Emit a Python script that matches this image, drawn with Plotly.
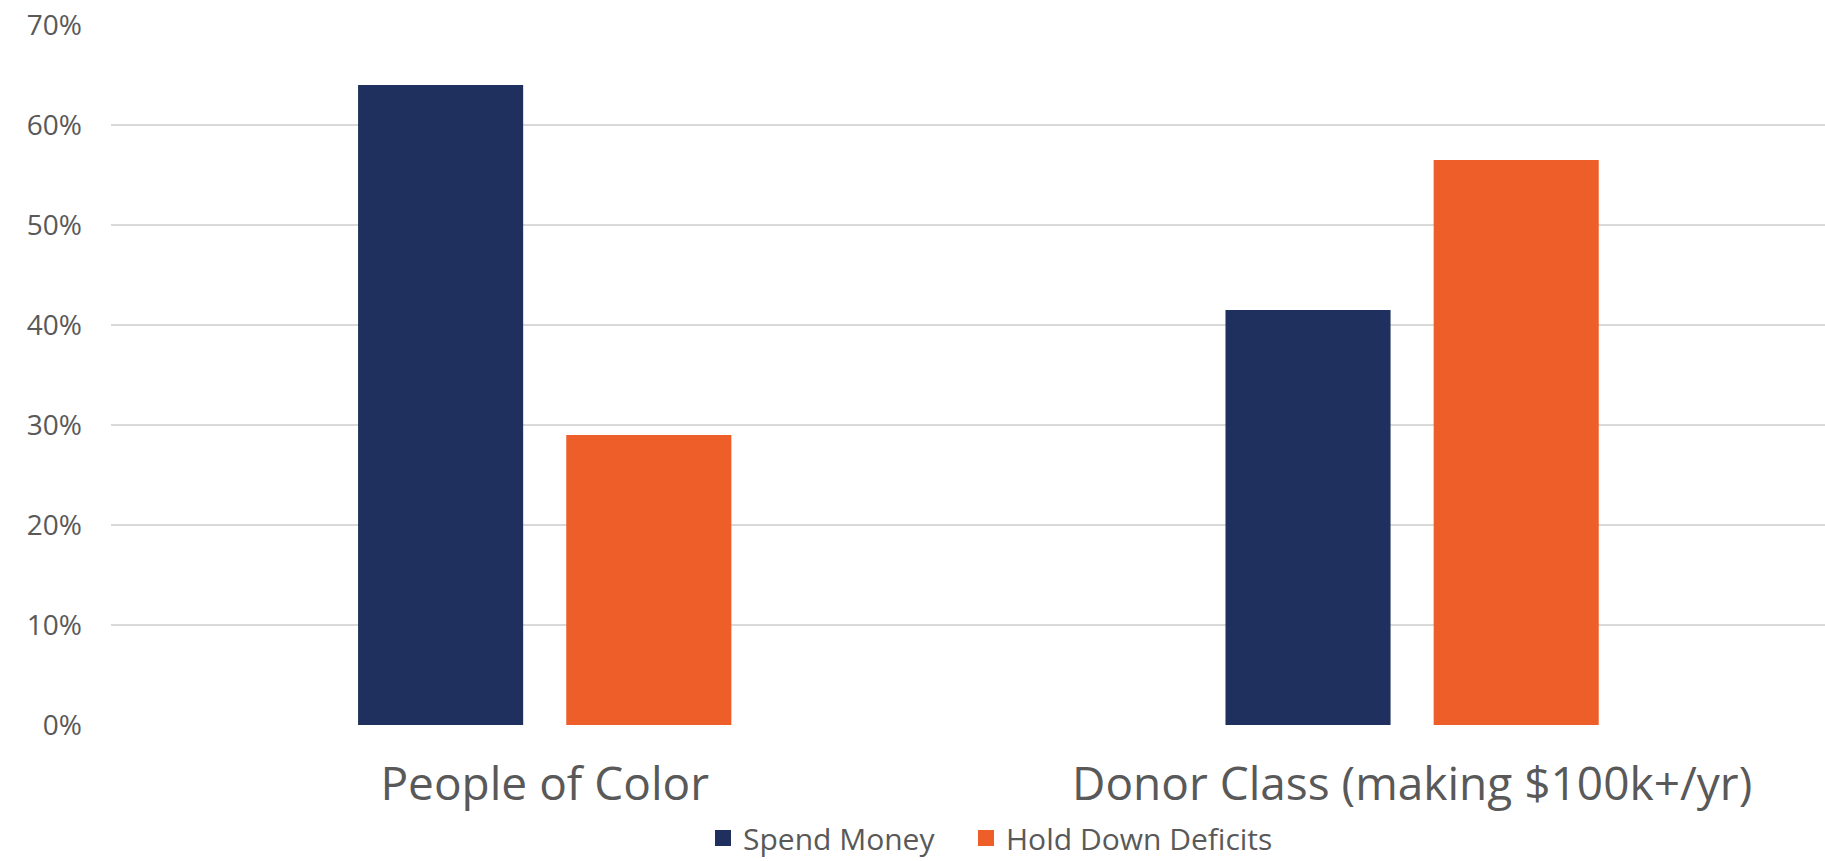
import plotly.graph_objects as go

categories = ["People of Color", "Donor Class (making $100k+/yr)"]
spend_money = [64.0, 41.5]
hold_down_deficits = [29.0, 56.5]
y_tick_vals = [0, 10, 20, 30, 40, 50, 60, 70]
y_tick_text = ["0%", "10%", "20%", "30%", "40%", "50%", "60%", "70%"]

NAVY = "#1F305E"
ORANGE = "#EE5E28"
TEXT = "#595959"
FONT = "Open Sans"

fig = go.Figure()
fig.add_trace(go.Bar(x=categories, y=spend_money, name="Spend Money",
                     marker=dict(color=NAVY, line=dict(width=0)), showlegend=False))
fig.add_trace(go.Bar(x=categories, y=hold_down_deficits, name="Hold Down Deficits",
                     marker=dict(color=ORANGE, line=dict(width=0)), showlegend=False))
# legend entries with square markers, one legend each for exact placement
fig.add_trace(go.Scatter(x=[None], y=[None], mode="markers", name="Spend Money",
                         marker=dict(symbol="square", size=16, color=NAVY), legend="legend"))
fig.add_trace(go.Scatter(x=[None], y=[None], mode="markers", name="Hold Down Deficits",
                         marker=dict(symbol="square", size=16, color=ORANGE), legend="legend2"))

leg_common = dict(orientation="h", yref="container", y=1 - 838 / 861, yanchor="middle",
                  xref="container", xanchor="left",
                  font=dict(size=30, color=TEXT, family=FONT), itemwidth=30,
                  bgcolor="rgba(0,0,0,0)")

fig.update_layout(
    width=1825, height=861,
    margin=dict(l=111, r=0, t=25, b=136, autoexpand=False),
    paper_bgcolor="white", plot_bgcolor="white",
    barmode="group", bargap=0.52, bargroupgap=0.207,
    font=dict(family=FONT, color=TEXT),
    showlegend=True,
    legend=dict(x=(723 - 20) / 1825, **leg_common),
    legend2=dict(x=(986 - 20) / 1825, **leg_common),
)
fig.update_xaxes(range=[-0.5, 1.476], showgrid=False, showline=False, zeroline=False,
                 tickfont=dict(size=46, color=TEXT, family=FONT),
                 ticks="", ticklabelstandoff=28)
fig.update_yaxes(range=[0, 70], tickvals=y_tick_vals, ticktext=y_tick_text,
                 showgrid=True, gridcolor="#D9D9D9", gridwidth=1.5,
                 zeroline=False, showline=False, ticks="",
                 tickfont=dict(size=28, color=TEXT, family=FONT),
                 ticklabelstandoff=28)

fig.write_html("out.html", config={"displayModeBar": False},
               post_script="document.body.style.margin='0';document.body.style.padding='0';")
